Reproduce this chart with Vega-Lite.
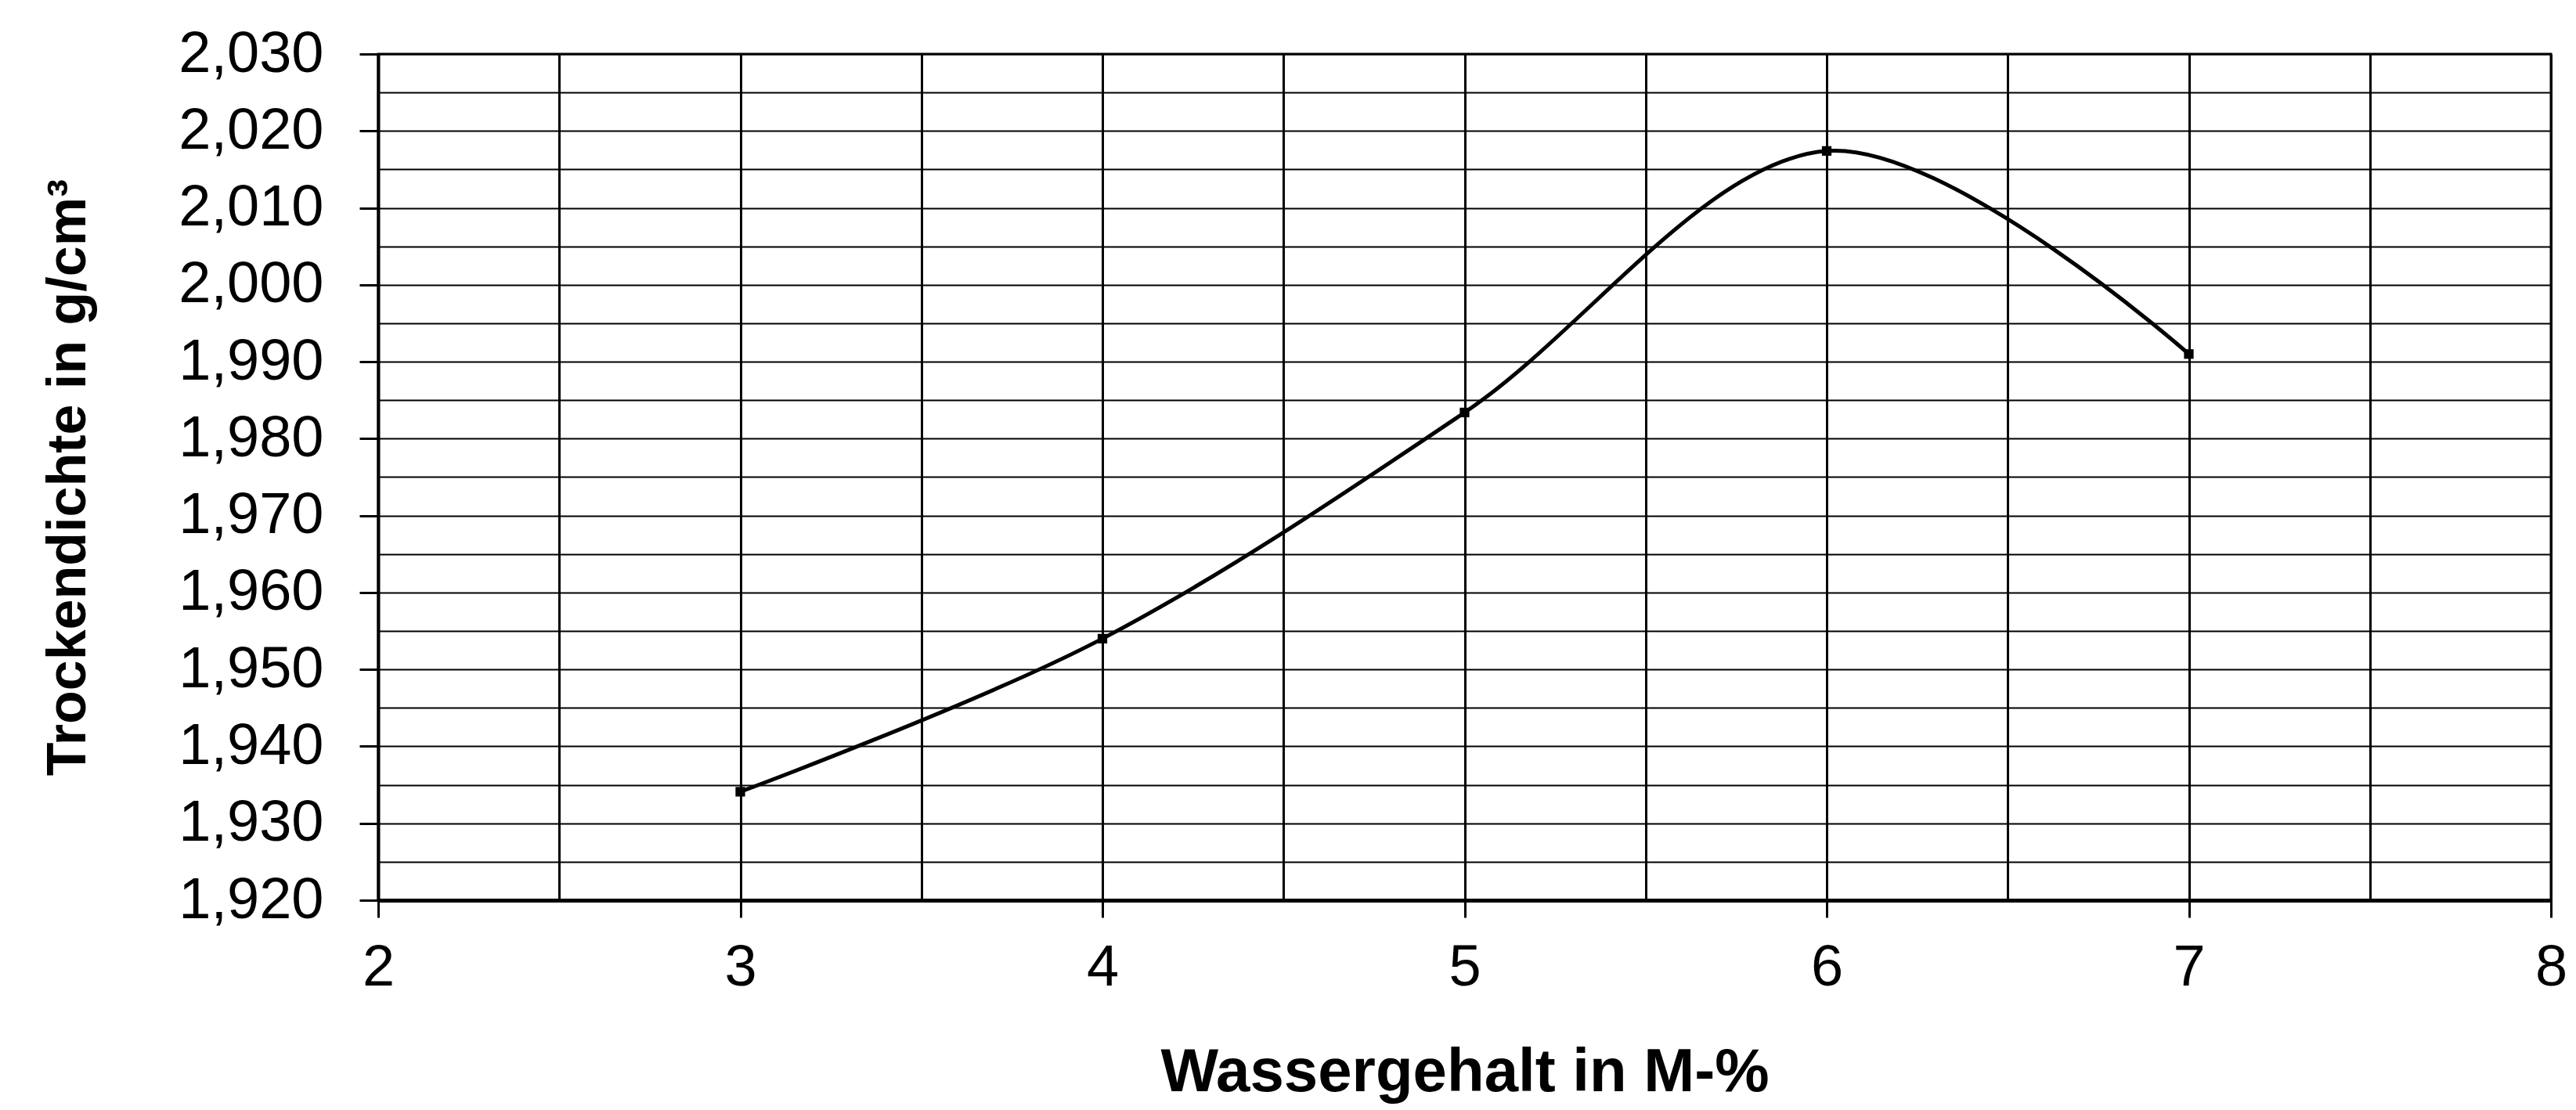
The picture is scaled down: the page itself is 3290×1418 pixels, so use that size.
{
  "$schema": "https://vega.github.io/schema/vega-lite/v6.json",
  "width": 2775,
  "height": 1081,
  "autosize": {"type": "none"},
  "padding": {"left": 483, "top": 69, "right": 32, "bottom": 268},
  "background": "white",
  "config": {
    "font": "Liberation Sans",
    "view": {"stroke": "#000", "strokeWidth": 3}
  },
  "data": {
    "values": [
      {"wassergehalt": 3, "trockendichte": 1.9341},
      {"wassergehalt": 4, "trockendichte": 1.954},
      {"wassergehalt": 5, "trockendichte": 1.9834},
      {"wassergehalt": 6, "trockendichte": 2.0174},
      {"wassergehalt": 7, "trockendichte": 1.991}
    ]
  },
  "encoding": {
    "x": {
      "field": "wassergehalt",
      "type": "quantitative",
      "scale": {"domain": [2, 8], "nice": false, "zero": false},
      "axis": {
        "values": [2, 2.5, 3, 3.5, 4, 4.5, 5, 5.5, 6, 6.5, 7, 7.5, 8],
        "title": "Wassergehalt in M-%",
        "titleFontSize": 78,
        "titleFontWeight": "bold",
        "titleColor": "#000",
        "titlePadding": 58,
        "labelExpr": "datum.value % 1 == 0 ? format(datum.value, 'd') : ''",
        "labelFontSize": 74,
        "labelColor": "#000",
        "labelPadding": 28,
        "labelOverlap": false,
        "labelFlush": false,
        "labelLimit": 0,
        "tickSize": 22,
        "tickWidth": 3,
        "tickColor": "#000",
        "tickOpacity": {"condition": {"test": "datum.value % 1 != 0", "value": 0}, "value": 1},
        "domainColor": "#000",
        "domainWidth": 5,
        "grid": true,
        "gridColor": "#000",
        "gridWidth": 3,
        "gridOpacity": 1
      }
    },
    "y": {
      "field": "trockendichte",
      "type": "quantitative",
      "scale": {"domain": [1.92, 2.03], "nice": false, "zero": false},
      "axis": {
        "values": [1.92, 1.925, 1.93, 1.935, 1.94, 1.945, 1.95, 1.955, 1.96, 1.965, 1.97, 1.975, 1.98, 1.985, 1.99, 1.995, 2.0, 2.005, 2.01, 2.015, 2.02, 2.025, 2.03],
        "title": "Trockendichte in g/cm³",
        "titleFontSize": 70,
        "titleFontWeight": "bold",
        "titleColor": "#000",
        "titlePadding": 160,
        "labelExpr": "round(datum.value * 1000) % 10 == 0 ? replace(format(datum.value, '.3f'), '.', ',') : ''",
        "labelFontSize": 74,
        "labelColor": "#000",
        "labelPadding": 46,
        "labelOverlap": false,
        "labelFlush": false,
        "labelLimit": 0,
        "tickSize": 24,
        "tickWidth": 3,
        "tickColor": "#000",
        "tickOpacity": {"condition": {"test": "round(datum.value * 1000) % 10 != 0", "value": 0}, "value": 1},
        "domainColor": "#000",
        "domainWidth": 4,
        "grid": true,
        "gridColor": "#000",
        "gridWidth": 2,
        "gridOpacity": 1
      }
    }
  },
  "layer": [
    {
      "mark": {"type": "line", "interpolate": "cardinal", "color": "#000", "strokeWidth": 5}
    },
    {
      "mark": {"type": "point", "shape": "square", "filled": true, "color": "#000", "size": 150, "opacity": 1}
    }
  ]
}
